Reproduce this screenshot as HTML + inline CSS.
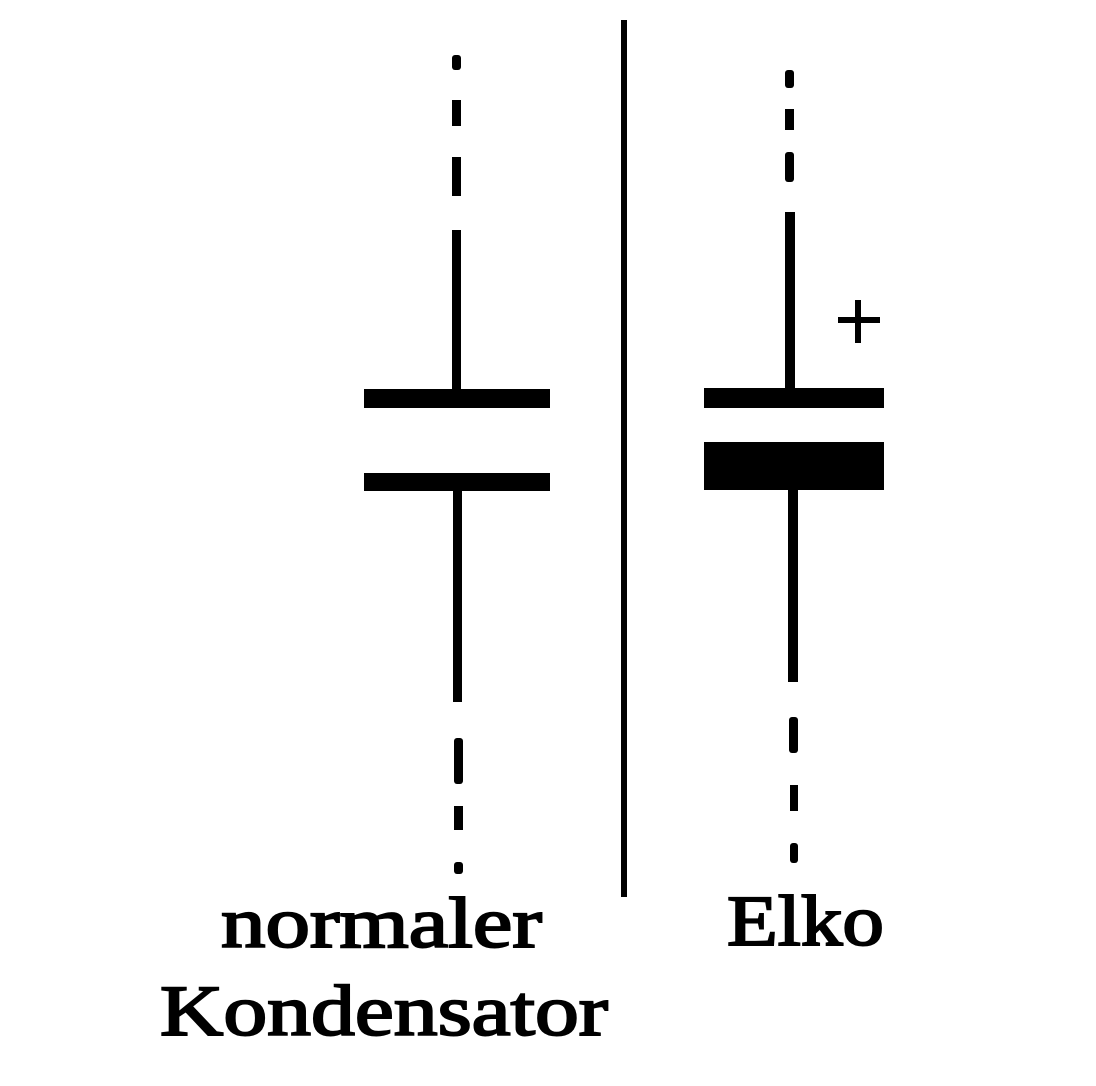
<!DOCTYPE html>
<html><head><meta charset="utf-8"><style>
html,body{margin:0;padding:0;background:#fff;}
svg{display:block;}
</style></head><body>
<svg width="1096" height="1086" viewBox="0 0 1096 1086" xmlns="http://www.w3.org/2000/svg">
<rect width="1096" height="1086" fill="#fff"/>
<g fill="#000">
<rect x="452" y="55" width="9" height="15" rx="3"/>
<rect x="452" y="100" width="9" height="26"/>
<rect x="452" y="157" width="9" height="39"/>
<rect x="452" y="230" width="9" height="162"/>
<rect x="364" y="389" width="186" height="19"/>
<rect x="364" y="473" width="186" height="18"/>
<rect x="453" y="489" width="9" height="213"/>
<rect x="454" y="738" width="9" height="46" rx="3"/>
<rect x="454" y="806" width="9" height="24"/>
<rect x="454" y="862" width="9" height="12" rx="3"/>
<rect x="621" y="20" width="6" height="877"/>
<rect x="785" y="70" width="9" height="18" rx="3"/>
<rect x="785" y="109" width="9" height="21"/>
<rect x="785" y="152" width="9" height="30" rx="3"/>
<rect x="785" y="212" width="10" height="178"/>
<rect x="704" y="388" width="180" height="20"/>
<rect x="704" y="442" width="180" height="48"/>
<rect x="788" y="488" width="10" height="194"/>
<rect x="789" y="717" width="9" height="36" rx="3"/>
<rect x="790" y="785" width="8" height="26"/>
<rect x="790" y="843" width="8" height="20" rx="3"/>
<rect x="838" y="317" width="42" height="6"/>
<rect x="855" y="300" width="6" height="43"/>
</g>
<g font-family="'Liberation Serif', serif" font-size="72" fill="#000" stroke="#000" stroke-width="2">
<text x="221" y="947" textLength="321" lengthAdjust="spacingAndGlyphs">normaler</text>
<text x="160" y="1035" textLength="448" lengthAdjust="spacingAndGlyphs">Kondensator</text>
<text x="727" y="945" textLength="157" lengthAdjust="spacingAndGlyphs">Elko</text>
</g>
</svg>
</body></html>
